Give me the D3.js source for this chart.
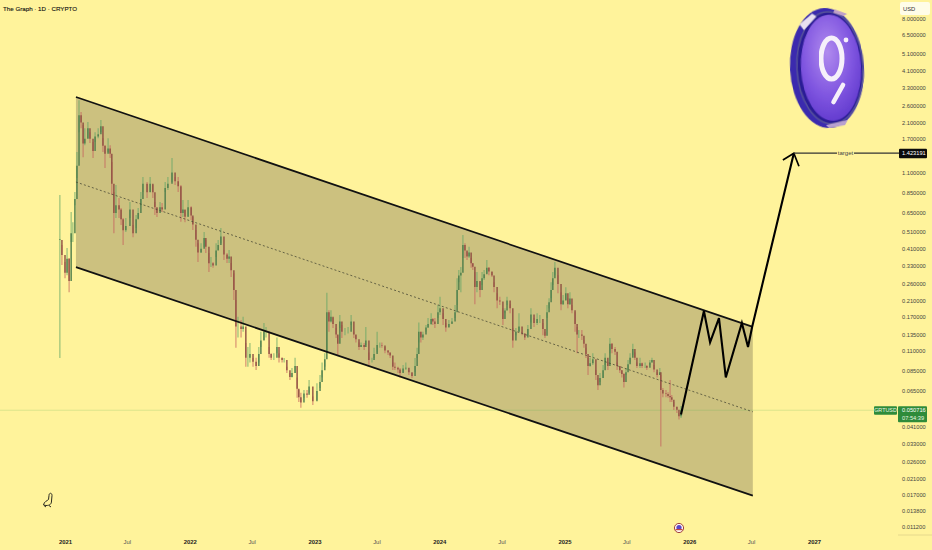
<!DOCTYPE html>
<html><head><meta charset="utf-8">
<style>
html,body{margin:0;padding:0;background:#fff39b;overflow:hidden}
svg{display:block}
text{font-family:"Liberation Sans",Arial,sans-serif}
</style>
<script src="https://cdn.jsdelivr.net/npm/d3@7"></script>
</head><body><svg id="c" width="932" height="550"></svg>
<script>
// Candles: day offset from 2021-01-01, then high / low / close in USD
const candleDays=[-15,-9,0,6,12,18,23,29,35,41,
47,53,58,67,73,82,88,97,105,111,
117,126,132,137,143,149,158,164,170,178,
190,199,208,214,222,228,240,249,257,263,
269,278,284,293,301,313,322,331,339,345,
351,360,369,374,383,389,398,407,412,421,
427,433,442,448,456,465,474,480,486,494,
500,506,515,521,529,535,541,550,559,567,
573,582,588,597,603,611,620,626,635,641,
649,658,664,673,679,684,690,699,708,714,
725,737,746,752,760,766,772,778,784,793,
798,804,810,819,828,837,845,851,860,866,
875,880,889,898,904,913,921,927,936,945,
951,959,965,974,980,989,997,1006,1015,1024,
1030,1035,1041,1047,1056,1062,1071,1076,1082,1091,
1097,1106,1114,1123,1132,1141,1147,1152,1158,1164,
1170,1176,1182,1188,1193,1199,1205,1214,1220,1226,
1234,1240,1249,1255,1264,1272,1281,1287,1293,1302,
1310,1319,1328,1337,1345,1354,1363,1372,1381,1389,
1398,1404,1410,1416,1422,1427,1433,1442,1451,1457,
1465,1471,1477,1483,1492,1498,1503,1512,1518,1524,
1530,1536,1544,1553,1559,1565,1574,1580,1588,1594,
1600,1609,1615,1623,1629,1635,1641,1647,1653,1661,
1667,1673,1682,1688,1697,1702,1711,1717,1723,1732,
1740,1743,1749,1758,1764,1770,1775,1781,1790,1796,1802];
const candleHigh=[.82,.43,.345,.413,.363,.659,.578,.853,1.43,2.8,
2.4,2.03,1.95,2.11,1.85,1.63,1.85,1.95,2.165,1.71,
1.565,1.71,1.565,1.26,.853,.934,.789,.694,.61,.61,
.75,.557,.634,.694,.853,1.036,.971,1.036,.934,.75,
.694,.75,.74,.971,1.036,1.325,1.036,1.036,.934,.769,
.676,.769,.71,.618,.522,.44,.44,.509,.458,.388,
.368,.345,.44,.458,.536,.403,.388,.403,.341,.298,
.211,.17,.163,.17,.121,.115,.121,.0997,.1,.115,
.14,.157,.149,.115,.106,.106,.13,.106,.1,.0997,
.089,.082,.0875,.1,.0775,.0659,.0635,.0659,.0659,.075,
.0605,.072,.08,.094,.106,.232,.185,.185,.167,.147,
.134,.174,.153,.147,.149,.174,.14,.134,.122,.122,
.121,.149,.107,.1,.114,.14,.122,.122,.115,.1105,
.107,.094,.094,.089,.0875,.091,.094,.0853,.082,.0997,
.114,.158,.14,.14,.153,.167,.178,.167,.167,.198,
.22,.178,.157,.163,.167,.198,.28,.311,.323,.49,
.44,.393,.42,.363,.341,.303,.303,.266,.303,.311,
.354,.323,.303,.266,.23,.22,.19,.19,.22,.2,
.147,.147,.178,.14,.137,.153,.19,.167,.178,.174,
.157,.14,.198,.216,.266,.303,.345,.291,.233,.225,
.249,.216,.233,.198,.18,.149,.143,.143,.126,.114,
.0997,.0997,.106,.0853,.077,.082,.091,.106,.094,.129,
.121,.115,.094,.089,.0853,.082,.0875,.097,.106,.12,
.107,.094,.1,.094,.094,.091,.097,.1,.091,.083,
.0875,.08,.0677,.0659,.064,.075,.0618,.0565,.053,.049,.0535];
const candleLow=[.0997,.332,.28,.291,.233,.447,.447,.72,1.023,1.85,
1.95,1.34,1.565,1.71,1.61,1.325,1.63,1.71,1.85,1.43,
1.165,1.43,1.325,.82,.5,.61,.61,.557,.43,.509,
.61,.475,.536,.61,.72,.853,.789,.853,.789,.634,
.618,.659,.659,.853,.875,.971,.934,.853,.58,.618,
.578,.618,.594,.522,.42,.345,.388,.42,.388,.303,
.323,.32,.368,.403,.44,.354,.341,.341,.284,.211,
.114,.13,.13,.14,.089,.089,.094,.089,.0853,.094,
.115,.126,.13,.1,.097,.097,.106,.094,.094,.094,
.082,.075,.0775,.082,.0597,.0565,.0523,.0597,.0597,.0635,
.0543,.0579,.0677,.0775,.089,.107,.14,.158,.147,.129,
.1036,.147,.129,.134,.137,.153,.129,.122,.1105,.115,
.1105,.118,.091,.094,.0997,.107,.114,.114,.106,.1036,
.0997,.0853,.0853,.082,.0775,.083,.0853,.08,.077,.083,
.0997,.122,.122,.126,.14,.147,.153,.153,.147,.167,
.174,.153,.14,.149,.157,.167,.198,.266,.233,.363,
.363,.354,.363,.32,.311,.2,.233,.219,.256,.273,
.298,.291,.284,.233,.19,.198,.153,.178,.198,.178,
.114,.134,.14,.134,.126,.134,.158,.149,.153,.157,
.134,.129,.167,.19,.216,.256,.291,.23,.185,.198,
.211,.19,.198,.178,.14,.106,.129,.126,.114,.0997,
.08,.089,.091,.075,.0659,.073,.077,.091,.0853,.106,
.106,.1036,.0853,.082,.0775,.068,.08,.0853,.094,.1036,
.097,.0875,.0875,.0875,.0875,.0853,.091,.094,.083,.0775,
.08,.0317,.06,.06,.0597,.0565,.0565,.0509,.049,.045,.0458];
const candleClose=[.458,.378,.30,.36,.27,.5,.5,.78,1.2,2.3,
2.1,1.6,1.7,1.95,1.7,1.45,1.75,1.8,2.0,1.55,
1.4,1.5,1.4,.95,.65,.72,.68,.6,.52,.55,
.68,.5,.6,.65,.78,.95,.85,.95,.85,.7,
.65,.7,.68,.9,.95,1.1,.98,.92,.65,.68,
.62,.7,.63,.56,.46,.39,.41,.47,.42,.34,
.34,.33,.4,.43,.48,.38,.36,.37,.31,.24,
.15,.15,.145,.15,.1,.1,.105,.095,.09,.105,
.125,.14,.14,.105,.1,.1,.115,.1,.097,.097,
.085,.078,.082,.09,.067,.06,.056,.063,.062,.069,
.057,.065,.073,.085,.098,.18,.16,.17,.155,.135,
.12,.16,.14,.14,.14,.16,.135,.127,.115,.118,
.115,.125,.097,.097,.105,.118,.118,.117,.11,.107,
.103,.089,.088,.086,.082,.087,.088,.083,.079,.09,
.105,.14,.13,.135,.148,.155,.165,.16,.155,.18,
.19,.165,.148,.155,.16,.18,.24,.29,.3,.43,
.4,.37,.39,.34,.325,.25,.27,.24,.28,.295,
.32,.305,.29,.25,.21,.207,.165,.184,.21,.19,
.125,.14,.15,.137,.13,.145,.175,.157,.165,.165,
.145,.133,.18,.205,.24,.28,.32,.26,.2,.21,
.23,.2,.215,.185,.155,.135,.135,.133,.12,.105,
.09,.093,.098,.08,.07,.077,.085,.1,.09,.12,
.112,.108,.09,.085,.081,.073,.083,.092,.1,.112,
.1,.09,.093,.09,.09,.088,.094,.097,.086,.08,
.083,.066,.063,.0625,.061,.06,.058,.053,.051,.047,.0507];

// Channel (day offset, USD)
const channelDays=[32,2012];
const channelTop=[2.915,.149];
const channelMid=[.971,.0497];
const channelBottom=[.323,.0168];

// Projected path and arrow
const pathDays=[1802,1869,1887,1913,1933,1980,1998,2010,2132];
const pathPrice=[.048,.183,.122,.167,.0775,.157,.115,.149,1.41];
const arrowDays=[2100,2132,2147];
const arrowPrice=[1.29,1.41,1.19];
const targetPrice=1.423191, targetLabel="target", lastPrice=0.050716;

// Axis labels
const priceTicks=[8,6.5,5.1,4.1,3.3,2.6,2.1,1.7,1.1,.85,.65,.51,.41,.33,.26,.21,.17,.135,.11,.085,.065,.041,.033,.026,.021,.017,.0138,.0112];
const timeTicks=["2021-01-01","2021-07-01","2022-01-01","2022-07-01","2023-01-01","2023-07-01","2024-01-01","2024-07-01","2025-01-01","2025-07-01","2026-01-01","2026-07-01","2027-01-01"];
const chartTitle="The Graph · 1D · CRYPTO", currency="USD", symbol="GRTUSD", countdown="07:54:39";

const BG="#fff39b", FILL="#ccc17f";
const svg=d3.select("#c");
const start=new Date(2021,0,1);
const dayDate=d=>d3.timeDay.offset(start,d);
const x=d3.scaleTime().domain([start,new Date(2027,0,1)]).range([65,814]);
const y=d3.scaleLog().domain([8,.0112]).range([19,527]);
const X=d=>x(dayDate(d));

const defs=svg.append("defs");
defs.append("filter").attr("id","soft").attr("x","-5%").attr("y","-5%").attr("width","110%").attr("height","110%")
  .append("feGaussianBlur").attr("stdDeviation",.35);

svg.append("rect").attr("width",932).attr("height",550).attr("fill",BG);

// channel fill
const area=d3.area().x(d=>X(d.t)).y0(d=>y(d.lo)).y1(d=>y(d.hi));
svg.append("path").datum(channelDays.map((t,i)=>({t,hi:channelTop[i],lo:channelBottom[i]})))
  .attr("d",area).attr("fill",FILL);

// last price line
svg.append("line").attr("x1",0).attr("x2",898).attr("y1",y(lastPrice)).attr("y2",y(lastPrice))
  .attr("stroke","#4caf50").attr("stroke-opacity",.2).attr("stroke-width",1);

// candles
const line=d3.line().x(d=>X(d[0])).y(d=>y(d[1]));
const g=svg.append("g").attr("filter","url(#soft)");
const col=i=>{const o=i?candleClose[i-1]:candleClose[i];return candleClose[i]>=o;};
g.selectAll("line.w").data(candleDays).join("line").attr("class","w")
  .attr("x1",d=>X(d)).attr("x2",d=>X(d))
  .attr("y1",(d,i)=>y(candleHigh[i])).attr("y2",(d,i)=>y(candleLow[i]))
  .attr("stroke",(d,i)=>col(i)?"#5fa565":"#c4605c").attr("stroke-width",1.2).attr("stroke-opacity",.65);
g.selectAll("line.b").data(candleDays).join("line").attr("class","b")
  .attr("x1",d=>X(d)).attr("x2",d=>X(d))
  .attr("y1",(d,i)=>y(i?candleClose[i-1]:candleClose[i]*1.01)).attr("y2",(d,i)=>y(candleClose[i]))
  .attr("stroke",(d,i)=>col(i)?"#4f7d4c":"#8f4f42").attr("stroke-width",1.5).attr("stroke-opacity",.95);

// channel borders
[channelTop,channelBottom].forEach(s=>{
  svg.append("path").datum(channelDays.map((t,i)=>[t,s[i]])).attr("d",line)
    .attr("fill","none").attr("stroke","#111").attr("stroke-width",1.7);
});
svg.append("path").datum(channelDays.map((t,i)=>[t,channelMid[i]])).attr("d",line)
  .attr("fill","none").attr("stroke","#4a4a35").attr("stroke-width",.8).attr("stroke-dasharray","2 2.2");

// projection
svg.append("path").datum(pathDays.map((t,i)=>[t,pathPrice[i]])).attr("d",line)
  .attr("fill","none").attr("stroke","#000").attr("stroke-width",2.1).attr("stroke-linejoin","miter");
svg.append("path").datum(arrowDays.map((t,i)=>[t,arrowPrice[i]])).attr("d",line)
  .attr("fill","none").attr("stroke","#000").attr("stroke-width",1.7);

// target line
const tx=X(pathDays[pathDays.length-1]), ty=y(pathPrice[pathPrice.length-1]);
svg.append("line").attr("x1",tx).attr("x2",837).attr("y1",ty).attr("y2",ty).attr("stroke","#333").attr("stroke-width",1.3);
svg.append("line").attr("x1",854).attr("x2",899).attr("y1",ty).attr("y2",ty).attr("stroke","#333").attr("stroke-width",1.3);
svg.append("text").attr("x",845.5).attr("y",ty+2).attr("text-anchor","middle").attr("font-size",6).attr("fill","#444").text(targetLabel);

// axes
const fmt=d=>d.toFixed(6);
const ya=svg.append("g").attr("transform","translate(898,0)")
  .call(d3.axisRight(y).tickValues(priceTicks).tickFormat(fmt).tickSize(0).tickPadding(4));
ya.select(".domain").remove();
ya.selectAll("text").attr("font-size",5.7).attr("fill","#45453f").attr("font-family",'"Liberation Sans",Arial,sans-serif');
const xa=svg.append("g").attr("transform","translate(0,537)")
  .call(d3.axisBottom(x).tickValues(timeTicks.map(d3.timeParse("%Y-%m-%d"))).tickSize(0).tickPadding(3)
    .tickFormat(d=>d.getMonth()===0?d3.timeFormat("%Y")(d):d3.timeFormat("%b")(d)));
xa.select(".domain").remove();
xa.selectAll("text").attr("font-size",5.9).attr("font-family",'"Liberation Sans",Arial,sans-serif')
  .attr("font-weight",d=>d.getMonth()===0?"700":"400").attr("fill",d=>d.getMonth()===0?"#222":"#555");

svg.append("line").attr("x1",898).attr("x2",932).attr("y1",535).attr("y2",535).attr("stroke","#e6d98c");

// title
svg.append("text").attr("x",3).attr("y",10.5).attr("font-size",6.2).attr("fill","#111").attr("stroke","#111").attr("stroke-width",.12).text(chartTitle);

// USD box
svg.append("rect").attr("x",900).attr("y",2).attr("width",30).attr("height",13).attr("rx",2).attr("fill","#fffde8");
svg.append("text").attr("x",903).attr("y",10.5).attr("font-size",5.8).attr("fill","#333").text(currency);

// target price label
svg.append("rect").attr("x",899).attr("y",ty-4.5).attr("width",28).attr("height",9.5).attr("rx",1).attr("fill","#0b0b0b");
svg.append("text").attr("x",902).attr("y",ty+2).attr("font-size",5.7).attr("fill","#fff").text(fmt(targetPrice));

// last price labels
const ly=y(lastPrice);
svg.append("rect").attr("x",874).attr("y",ly-4).attr("width",23).attr("height",8.5).attr("rx",1).attr("fill","#2e8b3a");
svg.append("text").attr("x",885.5).attr("y",ly+2).attr("text-anchor","middle").attr("font-size",5.4).attr("fill","#e8f5e0").text(symbol);
svg.append("rect").attr("x",898).attr("y",ly-4).attr("width",29).attr("height",16).attr("rx",1).attr("fill","#2e8b3a");
svg.append("text").attr("x",902).attr("y",ly+2).attr("font-size",5.7).attr("fill","#fff").text(fmt(lastPrice));
svg.append("text").attr("x",902).attr("y",ly+9.5).attr("font-size",5.7).attr("fill","#e8f5e0").text(countdown);

// coin logo
const rg=defs.append("radialGradient").attr("id","coin").attr("cx","45%").attr("cy","35%").attr("r","70%");
rg.append("stop").attr("offset","0%").attr("stop-color","#b08aee");
rg.append("stop").attr("offset","60%").attr("stop-color","#7f55e0");
rg.append("stop").attr("offset","100%").attr("stop-color","#5f38cc");
const logo=svg.append("g").attr("transform","rotate(-3 827 68)").attr("filter","url(#soft)");
logo.append("ellipse").attr("cx",827).attr("cy",68).attr("rx",37).attr("ry",60).attr("fill","#3a2cae");
logo.append("ellipse").attr("cx",830).attr("cy",68).attr("rx",33).attr("ry",56).attr("fill","#2a1c96").attr("stroke","#57529a").attr("stroke-width",1.4);
logo.append("ellipse").attr("cx",831).attr("cy",68).attr("rx",30).attr("ry",53).attr("fill","url(#coin)");
logo.append("path").attr("d","M802 23 L815 13 L819 16 L806 29 Z").attr("fill","#e8e0f0");
logo.append("path").attr("d","M838 10 L850 15 L846 17 L836 13 Z").attr("fill","#c0a0c8");
logo.append("path").attr("d","M823 125 L845 121 L842 126 L826 128 Z").attr("fill","#b8a0d0");
const mark=svg.append("g").attr("filter","url(#soft)");
mark.append("ellipse").attr("cx",831.5).attr("cy",58.5).attr("rx",10.5).attr("ry",20.5).attr("fill","none").attr("stroke","#f6f0fa").attr("stroke-width",5);
mark.append("circle").attr("cx",846).attr("cy",40).attr("r",2.4).attr("fill","#f6f0fa");
mark.append("line").attr("x1",843).attr("y1",85).attr("x2",833.5).attr("y2",102).attr("stroke","#f6f0fa").attr("stroke-width",4.6).attr("stroke-linecap","round");

// small icons
svg.append("path").attr("d","M43.5 505 C44 501.5 47 501 48.5 499.5 L49 495.5 C49 492.5 52 492.5 52 495.5 L51.5 501 C51.5 504 50 505.5 46 505.5 Z M44 505.5 L46 507 M49 505.5 L51 507")
  .attr("fill","none").attr("stroke","#2a2a20").attr("stroke-width",1);
svg.append("circle").attr("cx",679).attr("cy",528).attr("r",4.6).attr("fill","#fff8f0").attr("stroke","#a2423f").attr("stroke-width",1);
svg.append("circle").attr("cx",679).attr("cy",527.5).attr("r",2.6).attr("fill","#5a44c8");
svg.append("rect").attr("x",675.5).attr("y",529).attr("width",7).attr("height",1.2).attr("fill","#c04840");
</script></body></html>
